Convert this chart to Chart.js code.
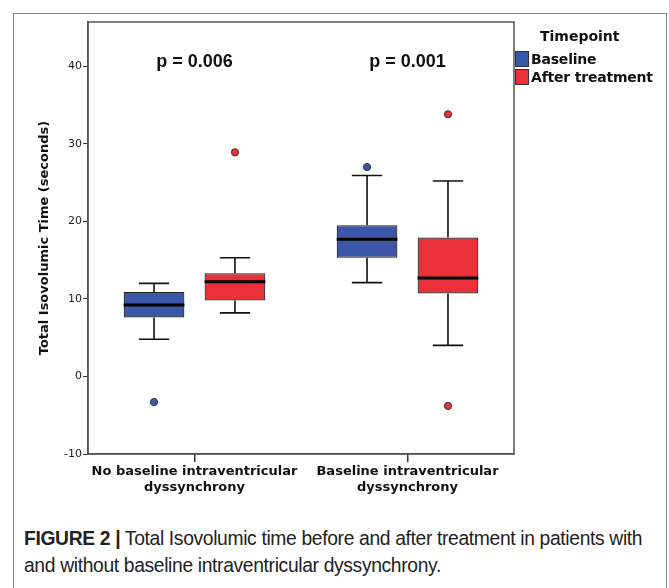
<!DOCTYPE html>
<html>
<head>
<meta charset="utf-8">
<script src="https://cdn.jsdelivr.net/npm/chart.js@4"></script>
<style>
  body { margin: 0; background: #fff; }
  #wrap { position: relative; width: 669px; height: 588px; overflow: hidden; }
  #frame { position: absolute; left: 13px; top: 13px; width: 652px; height: 600px; border: 1px solid #8a8a8a; }
  #chartBox { position: absolute; left: 0; top: 0; width: 669px; height: 510px; }
  #legend { position: absolute; left: 515px; top: 28px; font-family: "DejaVu Sans", sans-serif; font-weight: bold; font-size: 14px; color: #111; }
  #legend .title { margin-left: 25px; margin-bottom: 6px; }
  #legend .item { display: flex; align-items: center; height: 18px; letter-spacing: -0.2px; }
  #legend .sw { width: 12px; height: 14px; border: 1px solid #333; margin-right: 2px; }
  #caption { position: absolute; left: 24px; top: 525px; width: 660px; font-family: "Liberation Sans", sans-serif; font-size: 19.3px; letter-spacing: -0.35px; line-height: 27px; color: #222; white-space: nowrap; }
</style>
</head>
<body>
<div id="wrap">
  <div id="frame"></div>
  <div id="chartBox"><canvas id="boxChart"></canvas></div>
  <div id="legend">
    <div class="title">Timepoint</div>
    <div class="item"><span class="sw" style="background:#3d57a8"></span>Baseline</div>
    <div class="item"><span class="sw" style="background:#ec3038"></span>After treatment</div>
  </div>
  <div id="caption"><b>FIGURE 2 |</b> Total Isovolumic time before and after treatment in patients with<br>and without baseline intraventricular dyssynchrony.</div>
</div>
<script>
// Total isovolumic time - box plots by group
const categories = [['No baseline intraventricular', 'dyssynchrony'], ['Baseline intraventricular', 'dyssynchrony']];
const seriesNames = ['Baseline', 'After treatment'];
const seriesColors = ['#3d57a8', '#ec3038'];

const baselineMin = [4.8, 12.1];
const baselineQ1 = [7.6, 15.3];
const baselineMedian = [9.2, 17.7];
const baselineQ3 = [10.9, 19.5];
const baselineMax = [12.0, 25.9];
const baselineOutliers = [[-3.3], [27.0]];

const afterMin = [8.2, 4.0];
const afterQ1 = [9.8, 10.7];
const afterMedian = [12.2, 12.7];
const afterQ3 = [13.3, 17.9];
const afterMax = [15.3, 25.2];
const afterOutliers = [[28.9], [33.8, -3.8]];

const pValues = ['p = 0.006', 'p = 0.001'];
const yTicks = [-10, 0, 10, 20, 30, 40];

const stats = [
    { min: baselineMin, med: baselineMedian, max: baselineMax, out: baselineOutliers },
    { min: afterMin, med: afterMedian, max: afterMax, out: afterOutliers }
];

// whiskers, medians, outliers, p-values and the plot frame
const boxExtras = {
    id: 'boxExtras',
    afterDatasetsDraw(chart) {
        const ctx = chart.ctx;
        const y = chart.scales.y;
        const x = chart.scales.x;
        const area = chart.chartArea;
        ctx.save();
        stats.forEach((s, i) => {
            const meta = chart.getDatasetMeta(i);
            meta.data.forEach((bar, j) => {
                const q1 = chart.data.datasets[i].data[j][0];
                const q3 = chart.data.datasets[i].data[j][1];
                const cap = bar.width / 4;
                ctx.strokeStyle = '#111';
                ctx.lineWidth = 1.6;
                ctx.beginPath();
                ctx.moveTo(bar.x, y.getPixelForValue(q3));
                ctx.lineTo(bar.x, y.getPixelForValue(s.max[j]));
                ctx.moveTo(bar.x - cap, y.getPixelForValue(s.max[j]));
                ctx.lineTo(bar.x + cap, y.getPixelForValue(s.max[j]));
                ctx.moveTo(bar.x, y.getPixelForValue(q1));
                ctx.lineTo(bar.x, y.getPixelForValue(s.min[j]));
                ctx.moveTo(bar.x - cap, y.getPixelForValue(s.min[j]));
                ctx.lineTo(bar.x + cap, y.getPixelForValue(s.min[j]));
                ctx.stroke();
                ctx.lineWidth = 3;
                ctx.strokeStyle = '#000';
                ctx.beginPath();
                ctx.moveTo(bar.x - bar.width / 2, y.getPixelForValue(s.med[j]));
                ctx.lineTo(bar.x + bar.width / 2, y.getPixelForValue(s.med[j]));
                ctx.stroke();
                s.out[j].forEach(v => {
                    ctx.beginPath();
                    ctx.arc(bar.x, y.getPixelForValue(v), 3.6, 0, Math.PI * 2);
                    ctx.fillStyle = seriesColors[i];
                    ctx.fill();
                    ctx.lineWidth = 1;
                    ctx.strokeStyle = '#333';
                    ctx.stroke();
                });
            });
        });
        ctx.fillStyle = '#111';
        ctx.font = 'bold 18px "Liberation Sans", sans-serif';
        ctx.textAlign = 'center';
        ctx.textBaseline = 'middle';
        pValues.forEach((p, j) => {
            ctx.fillText(p, x.getPixelForValue(j), y.getPixelForValue(40.6));
        });
        ctx.strokeStyle = '#555';
        ctx.lineWidth = 1.5;
        ctx.strokeRect(area.left, area.top, area.right - area.left, area.bottom - area.top);
        ctx.restore();
    }
};

const ctx = document.getElementById('boxChart').getContext('2d');
new Chart(ctx, {
    type: 'bar',
    data: {
        labels: categories,
        datasets: [
            {
                label: seriesNames[0],
                data: baselineQ1.map((v, i) => [v, baselineQ3[i]]),
                backgroundColor: seriesColors[0],
                borderColor: '#222',
                borderWidth: 1.2,
                borderSkipped: false
            },
            {
                label: seriesNames[1],
                data: afterQ1.map((v, i) => [v, afterQ3[i]]),
                backgroundColor: seriesColors[1],
                borderColor: '#222',
                borderWidth: 1.2,
                borderSkipped: false
            }
        ]
    },
    options: {
        responsive: true,
        maintainAspectRatio: false,
        animation: false,
        categoryPercentage: 0.76,
        barPercentage: 0.75,
        layout: { padding: { left: 35, top: 22, right: 155, bottom: 0 } },
        plugins: { legend: { display: false }, tooltip: { enabled: false } },
        scales: {
            x: {
                grid: { display: true, drawOnChartArea: false, offset: false, tickLength: 8, color: '#333', lineWidth: 1.5 },
                border: { color: '#555', width: 1.5 },
                ticks: { color: '#111', font: { family: 'DejaVu Sans', size: 13, weight: 'bold' }, padding: 2, maxRotation: 0 },
                afterFit: s => { s.height = 56; }
            },
            y: {
                min: -10,
                max: 45.7,
                afterBuildTicks: s => { s.ticks = yTicks.map(v => ({ value: v })); },
                grid: { display: true, drawOnChartArea: false, tickLength: 5, color: '#333' },
                border: { color: '#555', width: 1.5 },
                ticks: { color: '#222', font: { family: 'DejaVu Sans', size: 11 }, padding: 1 },
                title: { display: true, text: 'Total Isovolumic Time (seconds)', color: '#111', font: { family: 'DejaVu Sans', size: 13, weight: 'bold' }, padding: 2 },
                afterFit: s => { s.width = 53; }
            }
        }
    },
    plugins: [boxExtras]
});
</script>
</body>
</html>
